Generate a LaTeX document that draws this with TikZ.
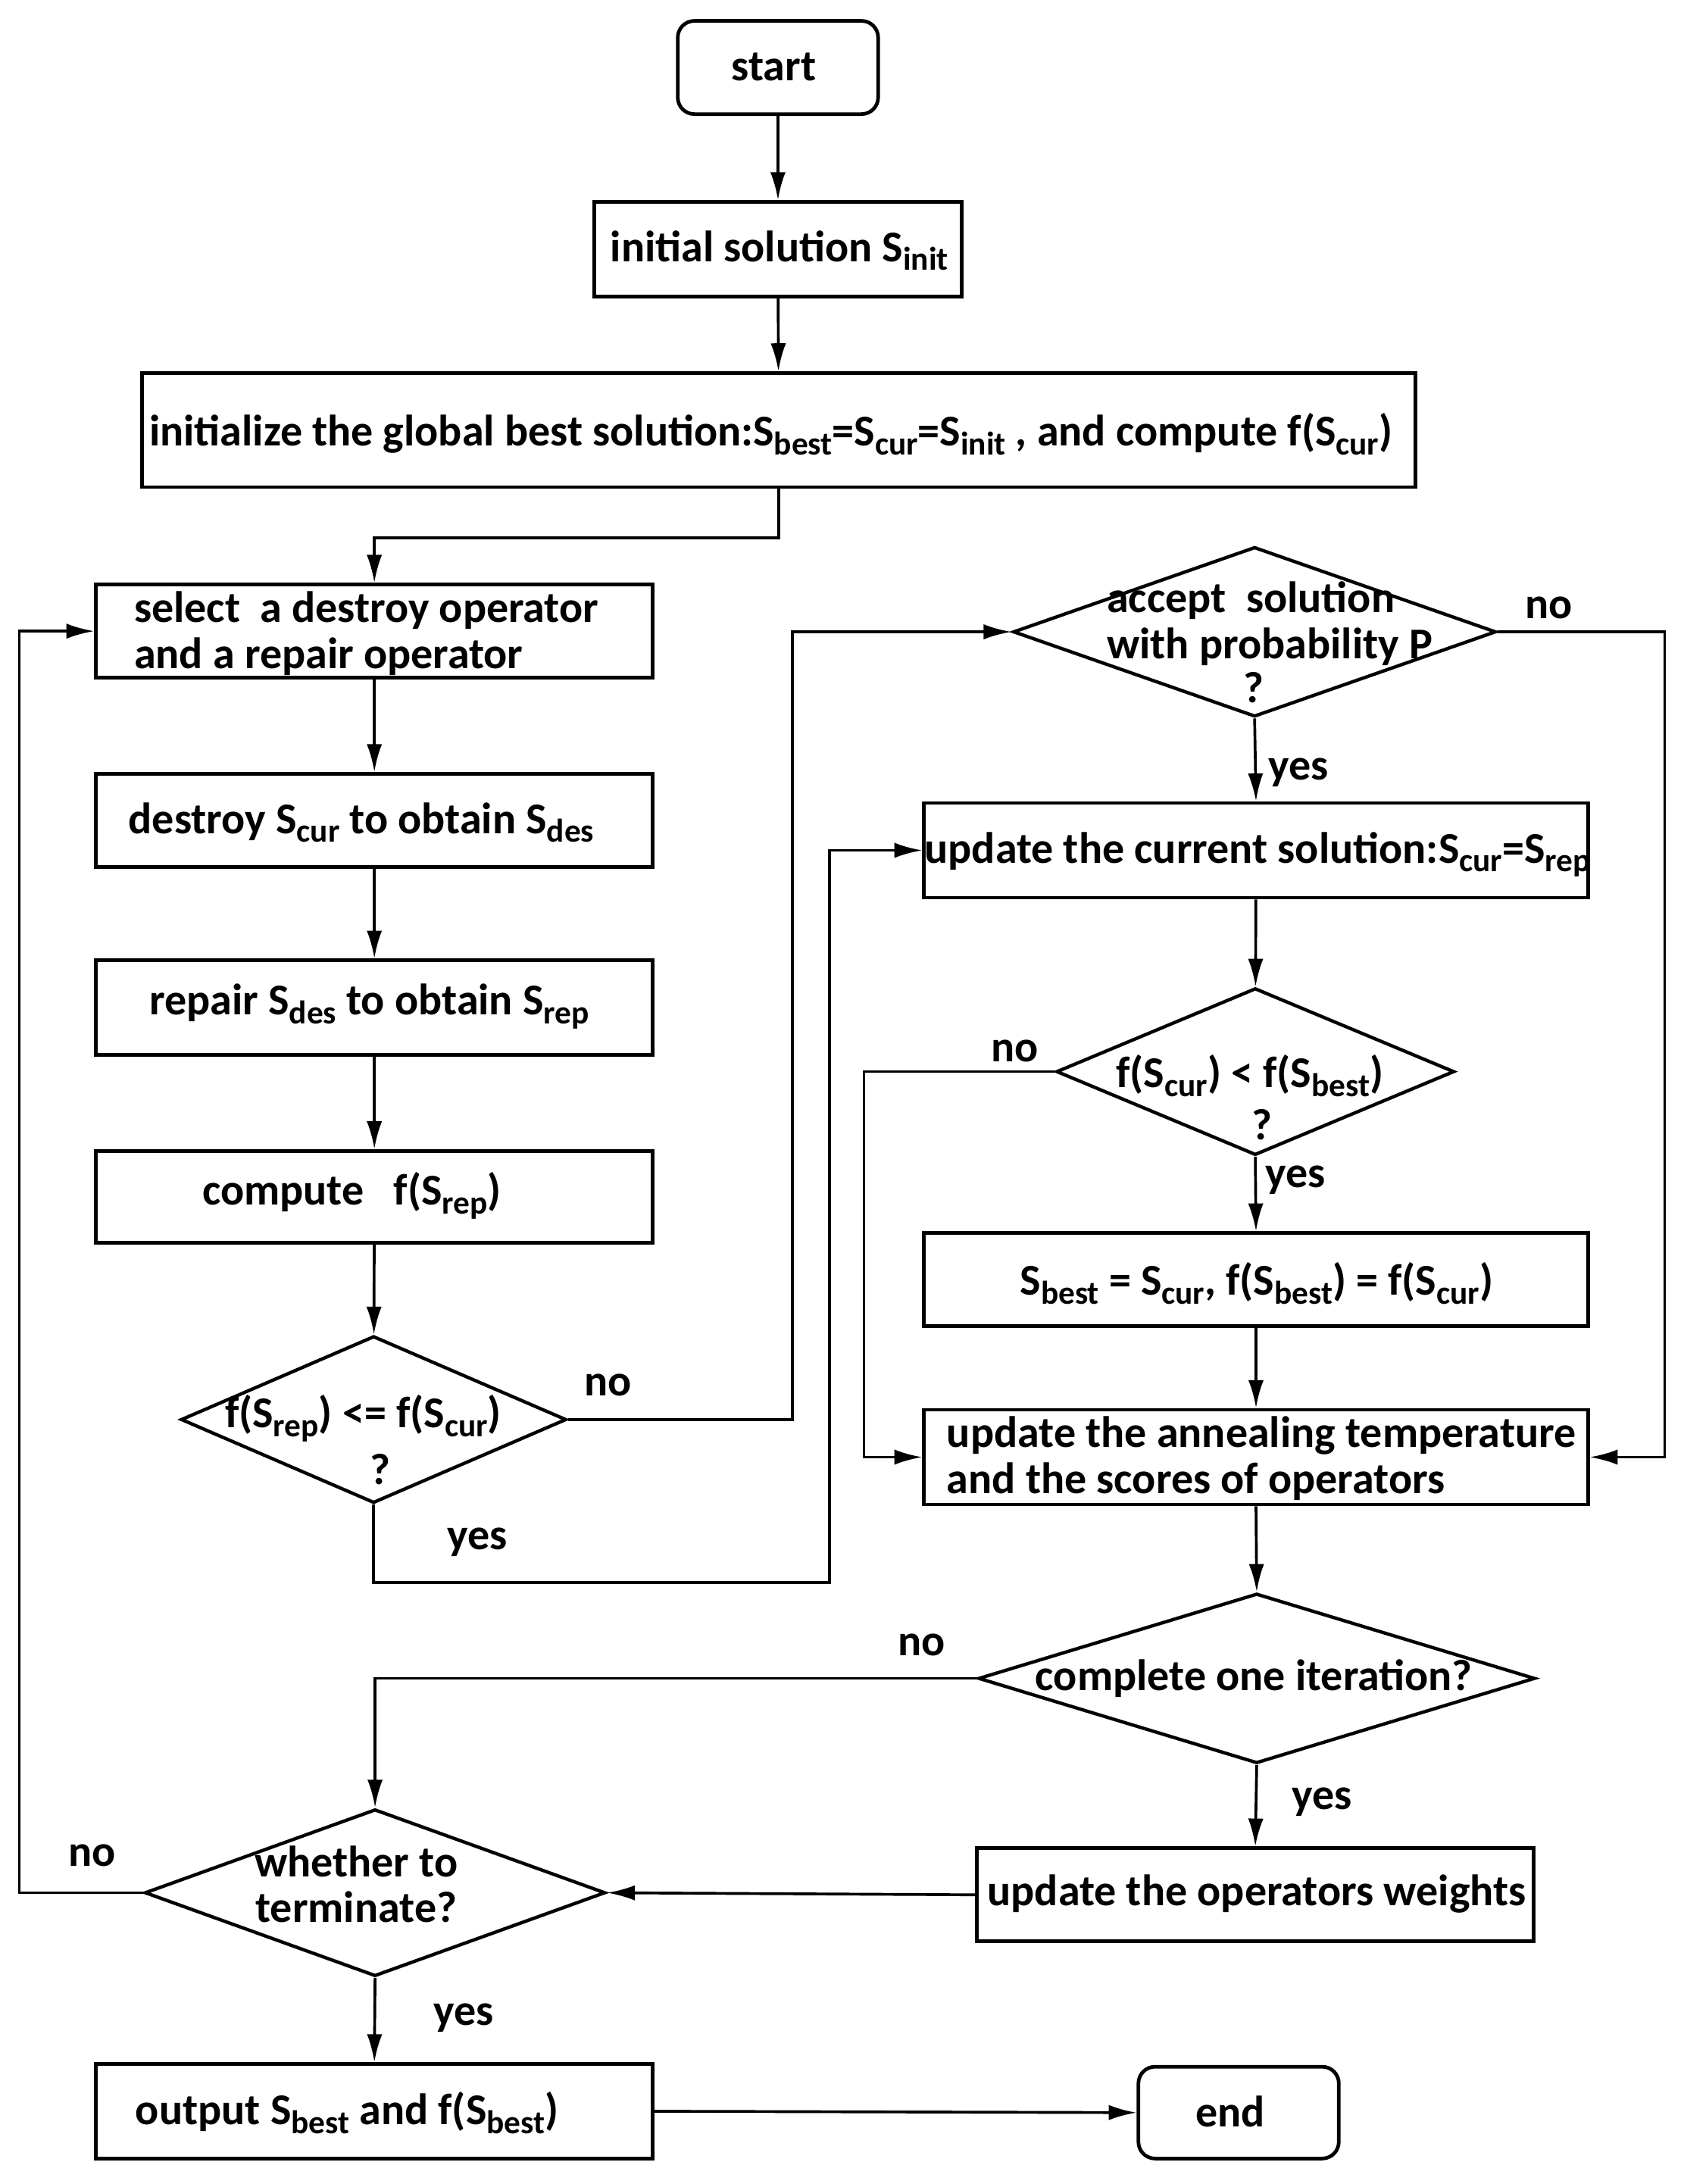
\documentclass[tikz,border=0pt]{standalone}
\usepackage{fontspec}
\setmainfont{Carlito}
\usetikzlibrary{shapes.geometric,arrows.meta}
\newcommand\sbx[1]{\raisebox{-3.2pt}{\fontsize{11.8}{11.8}\selectfont #1}}
\begin{document}
\begin{tikzpicture}[x=0.5pt,y=-0.5pt,
  every node/.style={font=\bfseries\fontsize{15.8}{16.5}\selectfont},
  box/.style={draw,line width=1.3pt,minimum width=#1,inner sep=0pt},
  term/.style={draw,line width=1.3pt,rounded corners=6pt,minimum width=72pt,minimum height=33.5pt,inner sep=0pt},
  dia/.style={draw,line width=1.2pt,diamond,inner sep=0pt},
  txt/.style={inner sep=0pt,align=left},
  lbl/.style={inner sep=0pt},
  arr/.style={line width=1pt,-{Latex[length=10pt,width=5.5pt]}}]
\useasboundingbox (0,0) rectangle (1210,1569.3);
% boxes
\node[term] (start) at (559,48.5) {};
\node[box=132pt,minimum height=34pt] (init) at (559,179) {};
\node[box=457.5pt,minimum height=41pt] (initg) at (559.5,309) {};
\node[box=200pt,minimum height=33.5pt] (select) at (269,453.5) {};
\node[box=200pt,minimum height=33.5pt] (destroy) at (269,589.5) {};
\node[box=200pt,minimum height=34pt] (repair) at (269,724) {};
\node[box=200pt,minimum height=33pt] (compute) at (269,860) {};
\node[dia,minimum width=138.5pt,minimum height=60pt] (d1) at (268.5,1020) {};
\node[dia,minimum width=173.5pt,minimum height=61pt] (accept) at (901.5,454) {};
\node[box=238.5pt,minimum height=34pt] (update) at (902.5,611) {};
\node[dia,minimum width=143pt,minimum height=60pt] (d2) at (902,770) {};
\node[box=238.5pt,minimum height=33.5pt] (best) at (902.5,919.5) {};
\node[box=238.5pt,minimum height=34pt] (anneal) at (902.5,1047) {};
\node[dia,minimum width=200pt,minimum height=61pt] (d3) at (903,1206) {};
\node[box=200pt,minimum height=33.5pt] (weights) at (902,1361.5) {};
\node[dia,minimum width=165.5pt,minimum height=60pt] (d4) at (269.5,1360) {};
\node[box=200pt,minimum height=34pt] (output) at (269,1517) {};
\node[term,minimum height=33pt] (end) at (890,1518) {};
% texts
\node[txt] (tstart) at (556,48) {start};
\node[txt] (tinit) at (560,180) {initial solution S\sbx{init}};
\node[txt] (tinitg) at (554,312) {initialize the global best solution:S\sbx{best}=S\sbx{cur}=S\sbx{init} , and compute f(S\sbx{cur})};
\node[txt,anchor=west] (tselect) at (96,455) {select\ \ a destroy operator\\and a repair operator};
\node[txt,anchor=west] (tdestroy) at (92,591) {destroy S\sbx{cur} to obtain S\sbx{des}};
\node[txt,anchor=west] (trepair) at (107,723) {repair S\sbx{des} to obtain S\sbx{rep}};
\node[txt,anchor=west] (tcompute) at (145,859) {compute\ \ \ f(S\sbx{rep})};
\node[txt] (td1) at (261,1019) {f(S\sbx{rep}) <= f(S\sbx{cur})};
\node[txt] (td1q) at (273,1056) {?};
\node[txt,anchor=west] (taccept) at (795,448) {accept\ \ solution\\with probability P};
\node[txt] (tacceptq) at (901,494) {?};
\node[txt,anchor=west] (tupdate) at (664,614) {update the current solution:S\sbx{cur}=S\sbx{rep}};
\node[txt] (td2) at (898,773) {f(S\sbx{cur}) < f(S\sbx{best})};
\node[txt] (td2q) at (907,808) {?};
\node[txt] (tbest) at (903,922) {S\sbx{best} = S\sbx{cur}, f(S\sbx{best}) = f(S\sbx{cur})};
\node[txt,anchor=west] (tanneal) at (680,1048) {update the annealing temperature\\and the scores of operators};
\node[txt] (td3) at (901,1206) {complete one iteration?};
\node[txt] (tweights) at (903,1361) {update the operators weights};
\node[txt,align=center] (td4) at (256,1354) {whether to\\terminate?};
\node[txt,anchor=west] (toutput) at (97,1518) {output S\sbx{best} and f(S\sbx{best})};
\node[txt] (tend) at (884,1517) {end};
% labels
\node[lbl] (l1) at (437,995) {no};
\node[lbl] (l2) at (343,1108) {yes};
\node[lbl] (l3) at (1113,437) {no};
\node[lbl] (l4) at (933,555) {yes};
\node[lbl] (l5) at (729,755) {no};
\node[lbl] (l6) at (931,848) {yes};
\node[lbl] (l7) at (662,1182) {no};
\node[lbl] (l8) at (950,1295) {yes};
\node[lbl] (l9) at (66,1333) {no};
\node[lbl] (l10) at (333,1450) {yes};
% connectors
\draw[arr] (start) -- (init);
\draw[arr] (init) -- (initg);
\draw[arr] (initg.south) -- ++(0,35) -| (select.north);
\draw[arr] (select) -- (destroy);
\draw[arr] (destroy) -- (repair);
\draw[arr] (repair) -- (compute);
\draw[arr] (compute) -- (d1);
\draw[arr] (d1.east) -- ++(161,0) |- (accept.west);
\draw[arr] (d1.south) |- (596,1137) |- (update.west);
\draw[arr] (accept.south) -- (update.north);
\draw[arr] (accept.east) -- ++(120,0) |- (anneal.east);
\draw[arr] (update) -- (d2);
\draw[arr] (d2.west) -- ++(-137,0) |- (anneal.west);
\draw[arr] (d2.south) -- (best.north);
\draw[arr] (best) -- (anneal);
\draw[arr] (anneal.south) -- (d3.north);
\draw[arr] (d3.west) -| (d4.north);
\draw[arr] (d3.south) -- (weights.north);
\draw[arr] (weights.west) -- (d4.east);
\draw[arr] (d4.west) -- ++(-89,0) |- (select.west);
\draw[arr] (d4.south) -- (output.north);
\draw[arr] (output.east) -- (end.west);
\end{tikzpicture}
\end{document}
